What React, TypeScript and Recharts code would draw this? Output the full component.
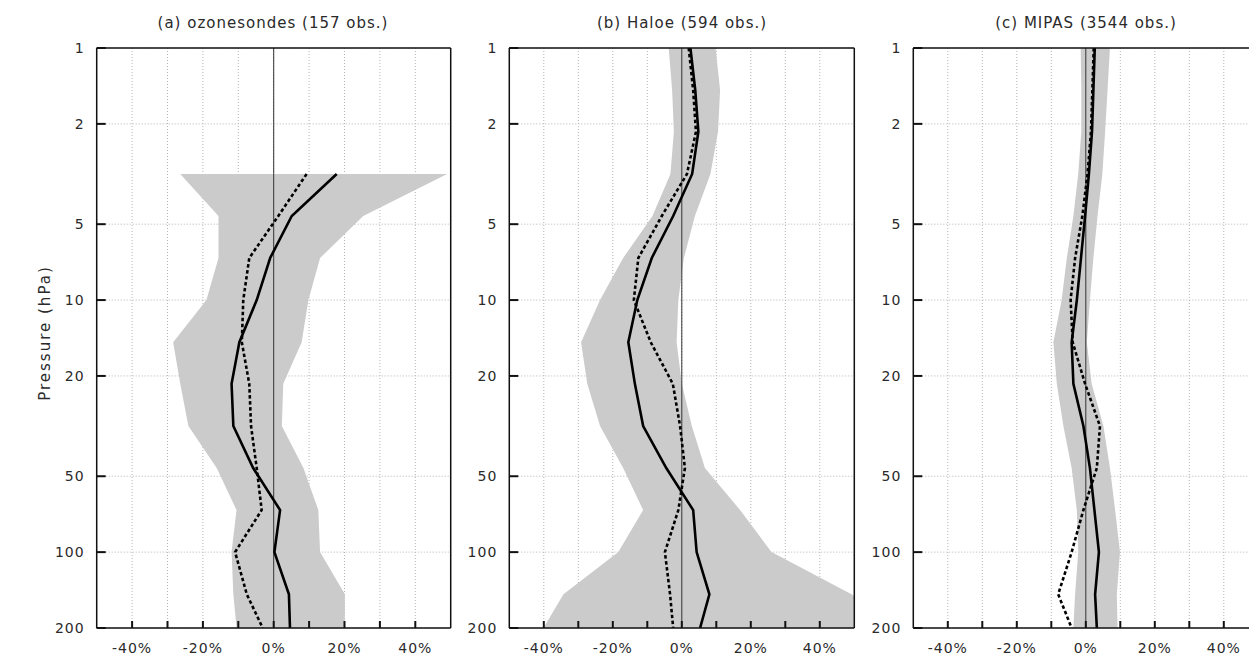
import React from 'react';
import { ComposedChart, Area, Line, XAxis, YAxis, CartesianGrid, ReferenceLine } from 'recharts';

// Pressure levels (hPa)
const PRESSURE_LEVELS = [1, 1.47, 2.15, 3.16, 4.64, 6.81, 10, 14.7, 21.5, 31.6, 46.4, 68.1, 100, 147, 200];
const PRESSURE_A = [3.16, 4.64, 6.81, 10, 14.7, 21.5, 31.6, 46.4, 68.1, 100, 147, 200];

// (a) ozonesondes
const A_LOW = [-26.4, -15.6, -15.6, -19.0, -28.4, -26.4, -24.1, -16.1, -10.5, -11.9, -11.4, -10.5];
const A_HIGH = [49.0, 25.3, 13.1, 9.8, 7.9, 2.7, 2.3, 8.4, 12.6, 13.1, 20.1, 20.1];
const A_SOLID = [17.8, 5.1, -1.0, -4.8, -9.7, -11.9, -11.4, -5.8, 1.8, 0.2, 4.3, 4.6];
const A_DOTTED = [9.3, 1.3, -6.9, -8.6, -9.0, -6.9, -6.4, -4.8, -3.4, -10.9, -7.6, -3.1];

// (b) Haloe
const B_LOW = [-3.8, -2.8, -2.3, -3.3, -8.5, -17.0, -23.7, -29.2, -27.4, -23.7, -17.0, -11.2, -18.4, -34.3, -40.1];
const B_HIGH = [9.8, 11.1, 10.5, 8.3, 3.8, 0.6, -1.0, -1.5, 0.0, 2.9, 6.7, 16.9, 26.0, 49.2, 62.0];
const B_SOLID = [2.5, 3.9, 4.8, 3.0, -2.5, -8.7, -12.9, -15.5, -13.6, -11.2, -4.5, 3.3, 4.3, 8.0, 5.3];
const B_DOTTED = [2.0, 3.3, 4.1, 1.5, -5.8, -12.6, -13.9, -9.0, -2.6, -0.5, 0.9, -1.0, -4.9, -3.4, -2.5];

// (c) MIPAS
const C_LOW = [-1.5, -1.3, -1.3, -2.2, -3.6, -5.5, -7.0, -9.4, -8.4, -6.5, -4.1, -2.6, -2.2, -3.1, -3.6];
const C_HIGH = [7.0, 6.3, 5.6, 4.8, 3.4, 2.2, 1.2, 0.3, 1.7, 5.1, 7.0, 8.5, 9.9, 9.0, 9.2];
const C_SOLID = [2.6, 2.2, 1.8, 0.9, -0.2, -1.4, -2.6, -4.1, -3.6, -0.7, 1.2, 2.5, 3.8, 2.7, 3.2];
const C_DOTTED = [2.3, 1.9, 1.5, 0.5, -1.0, -3.1, -4.4, -3.8, -0.2, 4.1, 3.2, -0.7, -4.1, -8.0, -4.1];

const Y_TICKS = [1, 2, 5, 10, 20, 50, 100, 200];
const X_TICKS = [-40, -30, -20, -10, 0, 10, 20, 30, 40];
const X_LABELS = [-40, -20, 0, 20, 40];
const TITLES = ['(a) ozonesondes (157 obs.)', '(b) Haloe (594 obs.)', '(c) MIPAS (3544 obs.)'];
const Y_LABEL = 'Pressure (hPa)';

type Row = { p: number; band: [number, number]; solid: number; dotted: number };

function buildRows(p: number[], low: number[], high: number[], solid: number[], dotted: number[]): Row[] {
  return p.map((pp, i) => ({ p: pp, band: [low[i], high[i]], solid: solid[i], dotted: dotted[i] }));
}

const ROWS_A = buildRows(PRESSURE_A, A_LOW, A_HIGH, A_SOLID, A_DOTTED);
const ROWS_B = buildRows(PRESSURE_LEVELS, B_LOW, B_HIGH, B_SOLID, B_DOTTED);
const ROWS_C = buildRows(PRESSURE_LEVELS, C_LOW, C_HIGH, C_SOLID, C_DOTTED);

const FONT = '"DejaVu Sans", sans-serif';
const TEXT_COLOR = '#2a2a2a';
const FRAME = { stroke: '#111', strokeWidth: 1.5 };
const TICKLINE = { stroke: '#111', strokeWidth: 2 };

function fmtX(v: number) {
  return X_LABELS.includes(v) ? `${v}%` : '';
}

type PanelProps = {
  rows: Row[];
  left: number;
  width: number;
  yw: number;
  mr: number;
};

function Panel({ rows, left, width, yw, mr }: PanelProps) {
  return (
    <div style={{ position: 'absolute', left, top: 0, width, height: 656 }}>
      <ComposedChart
        layout="vertical"
        width={width}
        height={656}
        data={rows}
        margin={{ top: 47, right: mr, bottom: 0, left: 0 }}
      >
        <CartesianGrid stroke="#b4b4b4" strokeDasharray="1 2" strokeWidth={1} />
        <XAxis
          type="number"
          domain={[-50, 50]}
          allowDataOverflow
          ticks={X_TICKS}
          interval={0}
          height={28}
          tickSize={-7}
          tickMargin={22}
          tickFormatter={fmtX}
          axisLine={FRAME}
          tickLine={TICKLINE}
          tick={{ fill: TEXT_COLOR, fontSize: 14, fontFamily: FONT, letterSpacing: 1 }}
        />
        <XAxis
          xAxisId="top"
          orientation="top"
          type="number"
          domain={[-50, 50]}
          allowDataOverflow
          ticks={X_TICKS}
          interval={0}
          height={1}
          tickSize={-7}
          tick={false}
          axisLine={FRAME}
          tickLine={TICKLINE}
        />
        <YAxis
          type="number"
          dataKey="p"
          scale="log"
          domain={[1, 200]}
          allowDataOverflow
          ticks={Y_TICKS}
          interval={0}
          width={yw}
          tickSize={-9}
          tickMargin={21}
          axisLine={FRAME}
          tickLine={TICKLINE}
          tick={{ fill: TEXT_COLOR, fontSize: 14, fontFamily: FONT, letterSpacing: 1 }}
        />
        <YAxis
          yAxisId="right"
          orientation="right"
          type="number"
          scale="log"
          domain={[1, 200]}
          allowDataOverflow
          ticks={Y_TICKS}
          interval={0}
          width={1}
          tickSize={-9}
          tick={false}
          axisLine={FRAME}
          tickLine={TICKLINE}
        />
        <Area
          dataKey="band"
          type="linear"
          fill="#cbcbcb"
          fillOpacity={1}
          stroke="none"
          isAnimationActive={false}
          activeDot={false}
        />
        <ReferenceLine x={0} stroke="#333" strokeWidth={1} ifOverflow="hidden" />
        <Line
          dataKey="solid"
          type="linear"
          stroke="#000"
          strokeWidth={2.6}
          dot={false}
          activeDot={false}
          isAnimationActive={false}
        />
        <Line
          dataKey="dotted"
          type="linear"
          stroke="#000"
          strokeWidth={2.6}
          strokeDasharray="3.5 2.5"
          dot={false}
          activeDot={false}
          isAnimationActive={false}
        />
      </ComposedChart>
    </div>
  );
}

const titleStyle: React.CSSProperties = {
  position: 'absolute',
  top: 14,
  width: 400,
  height: 18,
  lineHeight: '18px',
  textAlign: 'center',
  fontFamily: FONT,
  fontSize: 15,
  letterSpacing: 1,
  color: TEXT_COLOR,
  whiteSpace: 'nowrap',
};

export default function App() {
  return (
    <div
      style={{
        position: 'fixed',
        left: 0,
        top: 0,
        width: 1249,
        height: 656,
        overflow: 'hidden',
        background: '#fff',
      }}
    >
      <Panel rows={ROWS_A} left={0} width={460} yw={96.7} mr={8.3} />
      <Panel rows={ROWS_B} left={440} width={420} yw={69.3} mr={4.7} />
      <Panel rows={ROWS_C} left={850} width={420} yw={63.3} mr={10.7} />
      <div style={{ ...titleStyle, left: 273 - 200 }}>{TITLES[0]}</div>
      <div style={{ ...titleStyle, left: 682 - 200 }}>{TITLES[1]}</div>
      <div style={{ ...titleStyle, left: 1086 - 200 }}>{TITLES[2]}</div>
      <div
        style={{
          position: 'absolute',
          left: 45 - 100,
          top: 333 - 9,
          width: 200,
          height: 18,
          lineHeight: '18px',
          textAlign: 'center',
          transform: 'rotate(-90deg)',
          fontFamily: FONT,
          fontSize: 15,
          letterSpacing: 2,
          color: TEXT_COLOR,
          whiteSpace: 'nowrap',
        }}
      >
        {Y_LABEL}
      </div>
    </div>
  );
}
